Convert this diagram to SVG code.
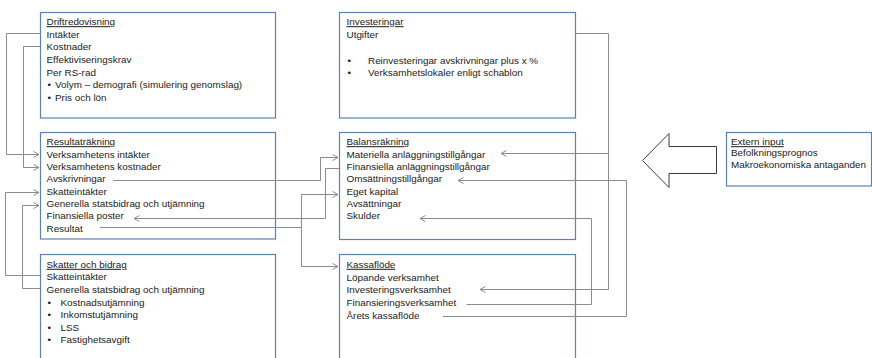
<svg xmlns="http://www.w3.org/2000/svg" width="872" height="358" viewBox="0 0 872 358">
<defs>
<style>
.box{fill:#ffffff;stroke:#5b82b8;stroke-width:1.2}
text{font-family:"Liberation Sans",Arial,sans-serif;font-size:9.9px;fill:#1a1a1a}
.t{text-decoration:underline}
.c{fill:none;stroke:#8c8c8c;stroke-width:1}
.a{marker-end:url(#ah)}
</style>
<marker id="ah" markerUnits="userSpaceOnUse" markerWidth="8" markerHeight="8" refX="6" refY="3.5" orient="auto">
<path d="M0.5,0.5 L6,3.5 L0.5,6.5" fill="none" stroke="#8c8c8c" stroke-width="1"/>
</marker>
</defs>
<rect width="872" height="358" fill="#ffffff"/>

<g id="driftredovisning">
<rect class="box" x="40.5" y="12.5" width="235" height="105.5"/>
<text x="46.5" y="25.2" class="t">Driftredovisning</text>
<text x="46.5" y="37.8">Intäkter</text>
<text x="46.5" y="50.4">Kostnader</text>
<text x="46.5" y="63">Effektiviseringskrav</text>
<text x="46.5" y="75.6">Per RS-rad</text>
<text x="47.5" y="88.2">•</text><text x="55" y="88.2">Volym – demografi (simulering genomslag)</text>
<text x="47.5" y="100.8">•</text><text x="55" y="100.8">Pris och lön</text>
</g>

<g id="resultatrakning">
<rect class="box" x="40.5" y="132.5" width="235" height="106.5"/>
<text x="46.5" y="145.2" class="t">Resultaträkning</text>
<text x="46.5" y="157.6">Verksamhetens intäkter</text>
<text x="46.5" y="169.9">Verksamhetens kostnader</text>
<text x="46.5" y="182.3">Avskrivningar</text>
<text x="46.5" y="194.7">Skatteintäkter</text>
<text x="46.5" y="207.1">Generella statsbidrag och utjämning</text>
<text x="46.5" y="219.4">Finansiella poster</text>
<text x="46.5" y="231.8">Resultat</text>
</g>

<g id="skatter">
<rect class="box" x="40.5" y="254.5" width="235" height="110"/>
<text x="46.5" y="267.8" class="t">Skatter och bidrag</text>
<text x="46.5" y="280.4">Skatteintäkter</text>
<text x="46.5" y="293">Generella statsbidrag och utjämning</text>
<text x="47.5" y="305.6">•</text><text x="60.5" y="305.6">Kostnadsutjämning</text>
<text x="47.5" y="318.2">•</text><text x="60.5" y="318.2">Inkomstutjämning</text>
<text x="47.5" y="330.8">•</text><text x="60.5" y="330.8">LSS</text>
<text x="47.5" y="343.4">•</text><text x="60.5" y="343.4">Fastighetsavgift</text>
</g>

<g id="investeringar">
<rect class="box" x="339.5" y="12.5" width="236" height="105.5"/>
<text x="346.5" y="25.2" class="t">Investeringar</text>
<text x="346.5" y="37.5">Utgifter</text>
<text x="347.5" y="63.5">•</text><text x="368" y="63.5">Reinvesteringar avskrivningar plus x %</text>
<text x="347.5" y="75.8">•</text><text x="368" y="75.8">Verksamhetslokaler enligt schablon</text>
</g>

<g id="balansrakning">
<rect class="box" x="339.5" y="132.5" width="236" height="107"/>
<text x="346.5" y="145.2" class="t">Balansräkning</text>
<text x="346.5" y="157.6">Materiella anläggningstillgångar</text>
<text x="346.5" y="169.9">Finansiella anläggningstillgångar</text>
<text x="346.5" y="182.3">Omsättningstillgångar</text>
<text x="346.5" y="194.7">Eget kapital</text>
<text x="346.5" y="207.1">Avsättningar</text>
<text x="346.5" y="219.4">Skulder</text>
</g>

<g id="kassaflode">
<rect class="box" x="339.5" y="254.5" width="236" height="110"/>
<text x="346.5" y="267.8" class="t">Kassaflöde</text>
<text x="346.5" y="280.5">Löpande verksamhet</text>
<text x="346.5" y="293.2">Investeringsverksamhet</text>
<text x="346.5" y="305.9">Finansieringsverksamhet</text>
<text x="346.5" y="318.6">Årets kassaflöde</text>
</g>

<g id="extern-arrow">
<polygon points="642.5,160.5 669,133.5 669,146.5 716.5,146.5 716.5,173.5 669,173.5 669,187.5" fill="#ffffff" stroke="#3c3c3c" stroke-width="1"/>
</g>

<g id="extern-input">
<rect class="box" x="726.5" y="132.5" width="145" height="53.5"/>
<text x="731" y="145.2" class="t">Extern input</text>
<text x="731" y="156.4">Befolkningsprognos</text>
<text x="731" y="167.6">Makroekonomiska antaganden</text>
</g>

<g id="connectors">
<polyline class="c a" points="40,33.5 6.5,33.5 6.5,154.5 39,154.5"/>
<polyline class="c a" points="40,46.5 23.5,46.5 23.5,167.5 39,167.5"/>
<polyline class="c a" points="40,275.5 5.5,275.5 5.5,192.5 39,192.5"/>
<polyline class="c a" points="40,288.5 22.5,288.5 22.5,205.5 39,205.5"/>
<polyline class="c a" points="113,180.5 320.5,180.5 320.5,157.5 338,157.5"/>
<polyline class="c a" points="339,168.5 325.5,168.5 325.5,218.5 134,218.5"/>
<polyline class="c" points="100,227.5 301.5,227.5"/>
<polyline class="c a" points="301.5,227.5 301.5,194.5 338,194.5"/>
<polyline class="c a" points="301.5,227.5 301.5,266.5 338,266.5"/>
<polyline class="c a" points="575.5,33.5 608.5,33.5 608.5,289.5 480,289.5"/>
<polyline class="c a" points="608.5,153.5 501,153.5"/>
<polyline class="c a" points="466.5,304.5 591.5,304.5 591.5,218.5 420,218.5"/>
<polyline class="c a" points="443,316.5 626.5,316.5 626.5,180.5 458,180.5"/>
</g>
</svg>
